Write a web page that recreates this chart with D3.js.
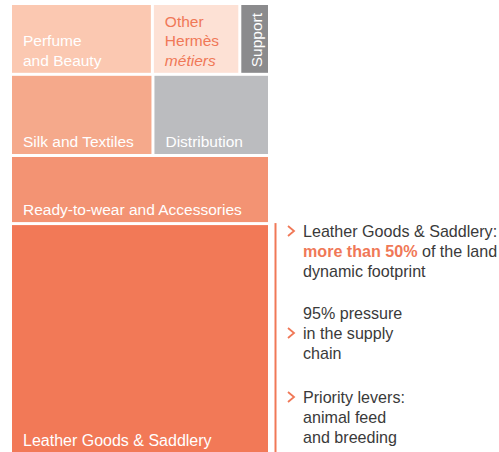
<!DOCTYPE html>
<html lang="en">
<head>
  <meta charset="utf-8" />
  <title>Land dynamic footprint by métier</title>
  <script src="https://cdn.jsdelivr.net/npm/d3@7"></script>
  <style>
    body { margin: 0; background: #fff; }
    svg text { font-family: "Liberation Sans", Arial, sans-serif; font-size: 15.5px; }
    svg text.note { font-size: 16.1px; }
  </style>
</head>
<body>
  <script>
    // share of the land dynamic footprint (%)
    var categories = ["Perfume and Beauty", "Other Hermès métiers", "Support", "Silk and Textiles",
      "Distribution", "Ready-to-wear and Accessories", "Leather Goods & Saddlery"];
    var rowOf = [0, 0, 0, 1, 1, 2, 3];
    var values = [8.6, 5.3, 1.8, 9.9, 8.1, 15.1, 51.2];
    var labelLines = [["Perfume", "and Beauty"], ["Other", "Hermès", "métiers"], ["Support"],
      ["Silk and Textiles"], ["Distribution"], ["Ready-to-wear and Accessories"], ["Leather Goods & Saddlery"]];

    var notes = [
      [[["Leather Goods & Saddlery:", 0]], [["more than 50%", 1], [" of the land", 0]], [["dynamic footprint", 0]]],
      [[["95% pressure", 0]], [["in the supply", 0]], [["chain", 0]]],
      [[["Priority levers:", 0]], [["animal feed", 0]], [["and breeding", 0]]]
    ];
    var noteArrowLine = [0, 1, 0];

    var orange = "#f07857";
    var color = d3.scaleOrdinal()
      .domain(categories)
      .range(["#fbc8b1", "#fde1d5", "#8b8b8d", "#f5a98b", "#bbbcbf", "#f39373", "#f27957"]);

    var svg = d3.select("body").append("svg").attr("width", 499).attr("height", 452);

    // rows stacked top to bottom, cells side by side in each row
    var rowData = d3.range(4).map(function(r) {
      return {
        children: categories.map(function(c, i) {
          return { name: c, value: values[i], lines: labelLines[i], row: rowOf[i] };
        }).filter(function(d) { return d.row === r; })
      };
    });

    var root = d3.hierarchy({ children: rowData }).sum(function(d) { return d.value || 0; });

    d3.treemap()
      .size([256, 448])
      .paddingInner(3)
      .tile(function(node, x0, y0, x1, y1) {
        if (node.depth === 0) d3.treemapSlice(node, x0, y0, x1, y1);
        else d3.treemapDice(node, x0, y0, x1, y1);
      })(root);

    var g = svg.append("g").attr("transform", "translate(12,5)");

    var cell = g.selectAll("g.cell")
      .data(root.leaves())
      .enter().append("g").attr("class", "cell");

    cell.append("rect")
      .attr("x", function(d) { return d.x0; })
      .attr("y", function(d) { return d.y0; })
      .attr("width", function(d) { return d.x1 - d.x0; })
      .attr("height", function(d) { return d.y1 - d.y0; })
      .attr("fill", function(d) { return color(d.data.name); });

    cell.filter(function(d) { return d.data.name !== "Support"; })
      .each(function(d) {
        var n = d.data.lines.length;
        var other = d.data.name === "Other Hermès métiers";
        d3.select(this).selectAll("text")
          .data(d.data.lines)
          .enter().append("text")
          .attr("x", d.x0 + 11)
          .attr("y", function(t, i) { return d.y1 - 7 - (n - 1 - i) * 19.5; })
          .attr("fill", other ? orange : "#fff")
          .attr("font-style", function(t) { return t === "métiers" ? "italic" : null; })
          .style("font-size", d.data.name === "Leather Goods & Saddlery" ? "16px" : null)
          .text(function(t) { return t; });
      });

    cell.filter(function(d) { return d.data.name === "Support"; })
      .append("text")
      .attr("transform", function(d) { return "translate(" + (d.x1 - 6) + "," + (d.y0 + 8) + ") rotate(-90)"; })
      .attr("text-anchor", "end")
      .attr("fill", "#fff")
      .text(function(d) { return d.data.lines[0]; });

    // notes on the right
    var leather = root.leaves()[6];
    svg.append("line")
      .attr("x1", 275.5).attr("x2", 275.5)
      .attr("y1", leather.y0 + 5 - 2).attr("y2", 452)
      .attr("stroke", orange).attr("stroke-width", 2);

    var blockTop = [237, 319, 403];
    notes.forEach(function(block, b) {
      block.forEach(function(line, i) {
        var t = svg.append("text")
          .attr("class", "note")
          .attr("x", 303)
          .attr("y", blockTop[b] + i * 20)
          .attr("fill", "#3a3a3a");
        line.forEach(function(part) {
          t.append("tspan")
            .attr("fill", part[1] ? orange : null)
            .attr("font-weight", part[1] ? "bold" : null)
            .text(part[0]);
        });
      });
      var cy = blockTop[b] + noteArrowLine[b] * 20 - 6;
      svg.append("path")
        .attr("d", "M288," + (cy - 5) + "L294," + cy + "L288," + (cy + 5))
        .attr("fill", "none")
        .attr("stroke", orange)
        .attr("stroke-width", 1.8);
    });
  </script>
</body>
</html>
